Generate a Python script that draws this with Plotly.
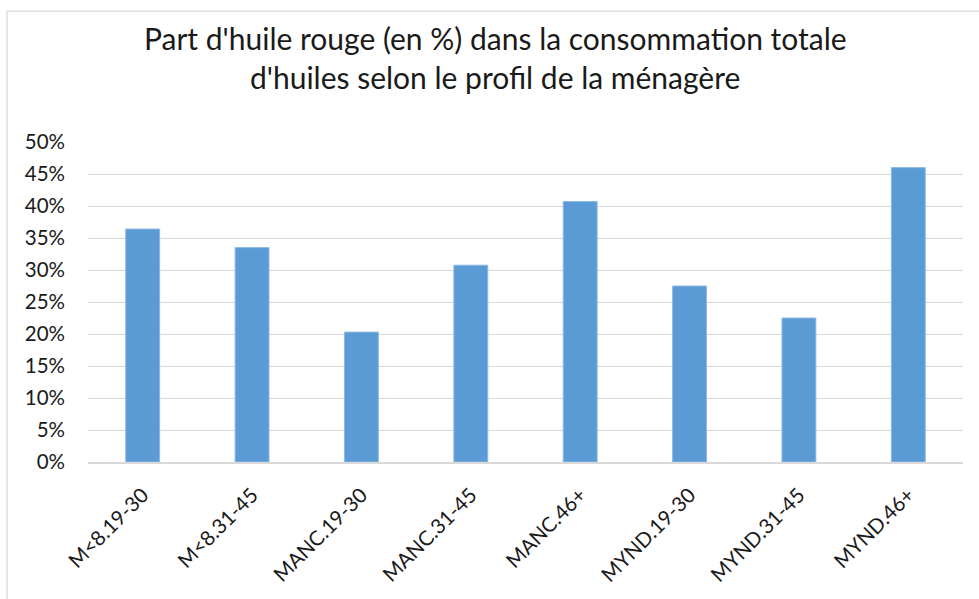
import plotly.graph_objects as go

categories = ["M<8.19-30", "M<8.31-45", "MANC.19-30", "MANC.31-45",
              "MANC.46+", "MYND.19-30", "MYND.31-45", "MYND.46+"]
values = [0.364, 0.335, 0.203, 0.3075, 0.407, 0.275, 0.225, 0.46]
y_ticks = [0, 0.05, 0.10, 0.15, 0.20, 0.25, 0.30, 0.35, 0.40, 0.45, 0.50]
title_lines = ["Part d'huile rouge (en %) dans la consommation totale",
               "d'huiles selon le profil de la ménagère"]

FONT = "Lato"
TXT = "#1a1a1a"
W, H = 979, 599
L, R, T, B = 88, 16, 142, 136.5
pw = W - L - R
ph = H - T - B


def px_x(px):
    return (px - L) / pw


def px_y(py):
    return (H - B - py) / ph


fig = go.Figure()
fig.add_trace(go.Bar(
    x=categories, y=values,
    marker=dict(color="#5B9BD5", line=dict(color="#8DB9E4", width=1)),
    width=0.31,
))

annotations = []
for line, cy in zip(title_lines, [38, 77]):
    annotations.append(dict(text=line, xref="paper", yref="paper",
                            x=px_x(495), y=px_y(cy), xanchor="center", yanchor="middle",
                            showarrow=False, font=dict(family=FONT, size=30, color=TXT)))

fig.update_layout(
    width=W, height=H,
    margin=dict(l=L, r=R, t=T, b=B, autoexpand=False),
    paper_bgcolor="white", plot_bgcolor="white",
    showlegend=False,
    font=dict(family=FONT, color=TXT),
    annotations=annotations,
    xaxis=dict(type="category", tickangle=-45, tickfont=dict(size=20.5, family=FONT, color=TXT),
               showline=True, linecolor="#d9d9d9", linewidth=2, ticks="", automargin=False,
               ticklabelstandoff=11, showgrid=False),
    yaxis=dict(range=[0, 0.5], tickvals=y_ticks, tickformat=".0%",
               tickfont=dict(size=20.5, family=FONT, color=TXT),
               showgrid=True, gridcolor="#d9d9d9", gridwidth=1.3, zeroline=False,
               showline=False, ticks="", automargin=False, ticklabelstandoff=22),
    shapes=[dict(type="rect", xref="paper", yref="paper",
                 x0=px_x(7), x1=px_x(W + 5),
                 y0=px_y(H + 5), y1=px_y(11),
                 line=dict(color="#d9d9d9", width=1.3), fillcolor="rgba(0,0,0,0)", layer="below")],
)

fig.write_html("out.html", config={"displayModeBar": False},
               post_script="document.body.style.margin='0';document.body.style.padding='0';")
